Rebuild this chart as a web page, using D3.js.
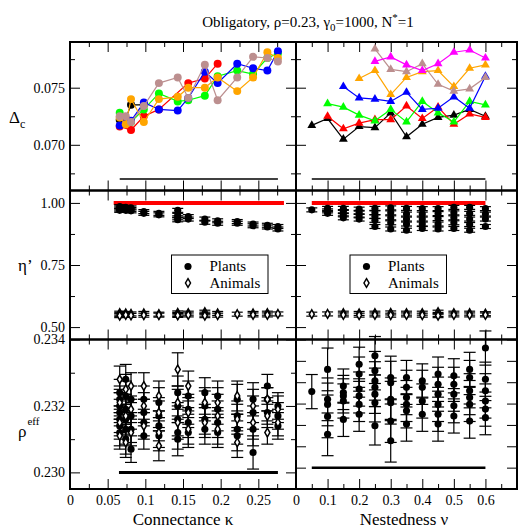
<!DOCTYPE html>
<head>
<meta charset="utf-8">
<title>Obligatory</title>
<script src="https://d3js.org/d3.v7.min.js"></script>
<style>
  body { margin: 0; background: #fff; }
</style>
</head>
<body>
<div id="chart"></div>
<script>
// x values of the columns
var kappa = [0.066, 0.074, 0.081, 0.098, 0.118, 0.143, 0.157, 0.179, 0.196, 0.222, 0.243, 0.262, 0.276];
var nu = [0.05, 0.1, 0.15, 0.2, 0.25, 0.3, 0.35, 0.4, 0.45, 0.5, 0.55, 0.6];

// top left: Delta_c vs connectance (circles)
var dkBlack  = [0.0722, 0.0723, 0.0735, 0.0735, null, null, null, null, null, null, null, null, null];
var dkRed    = [0.0716, null, 0.0713, 0.0725, 0.0731, null, 0.0754, 0.0758, 0.0771, null, null, null, null];
var dkGreen  = [0.0728, 0.0722, 0.0720, 0.0731, 0.0745, 0.0738, 0.0739, 0.0743, 0.0760, 0.0765, 0.0762, 0.0776, 0.0780];
var dkBlue   = [0.0717, 0.0722, 0.0721, 0.0737, 0.0731, 0.0730, 0.0741, 0.0764, 0.0754, 0.0771, 0.0767, 0.0765, 0.0782];
var dkOrange = [0.0724, 0.0718, 0.0740, 0.0720, 0.0740, 0.0742, 0.0750, 0.0750, 0.0759, 0.0747, 0.0759, 0.0781, 0.0776];
var dkBrown  = [0.0725, 0.0725, 0.0720, 0.0734, 0.0754, 0.0759, 0.0741, 0.0770, 0.0739, 0.0759, 0.0777, 0.0776, 0.0773];

// top right: Delta_c vs nestedness (triangles)
var dnBlack   = [0.0717, 0.0723, 0.0705, 0.0716, 0.0715, 0.0728, 0.0707, 0.0718, 0.0724, 0.0726, 0.0731, 0.0725];
var dnRed     = [null, 0.0725, 0.0714, 0.0719, 0.0722, 0.0722, 0.0734, 0.0723, 0.0733, 0.0718, 0.0727, 0.0724];
var dnGreen   = [null, 0.0736, 0.0733, 0.0726, 0.0721, 0.0731, 0.0720, 0.0738, 0.0728, 0.0720, 0.0738, 0.0735];
var dnBlue    = [null, null, 0.0751, 0.0741, 0.0740, 0.0738, 0.0746, 0.0731, 0.0732, 0.0742, 0.0732, 0.0760];
var dnOrange  = [null, null, null, 0.0758, 0.0765, 0.0744, 0.0759, 0.0764, 0.0765, 0.0751, 0.0767, 0.0770];
var dnBrown   = [null, null, null, null, 0.0784, 0.0766, 0.0764, 0.0771, 0.0753, 0.0747, 0.0749, 0.0759];
var dnMagenta = [null, null, null, null, 0.0773, 0.0777, 0.0770, 0.0765, 0.0771, 0.0781, 0.0783, 0.0776];

// middle: eta' per column
var etaPlantsK = [[0.985, 0.980, 0.975, 0.970], [0.982, 0.976, 0.970], [0.980, 0.974, 0.968], [0.965, 0.958],
  [0.958, 0.952], [0.970, 0.950, 0.940, 0.932], [0.945, 0.935], [0.935, 0.922], [0.928, 0.918],
  [0.925, 0.918], [0.915, 0.908], [0.910, 0.903], [0.905, 0.895]];
var etaAnimalsK = [[0.556, 0.550, 0.546], [0.555, 0.549], [0.553, 0.547], [0.555, 0.548], [0.552, 0.548],
  [0.557, 0.551, 0.547], [0.556, 0.549], [0.560, 0.552, 0.546], [0.555, 0.548], [0.552],
  [0.555, 0.549], [0.556, 0.549], [0.553]];
var etaPlantsN = [[0.972], [0.978, 0.968, 0.958], [0.978, 0.965, 0.952, 0.940], [0.975, 0.962, 0.948, 0.935],
  [0.978, 0.960, 0.945, 0.930, 0.905], [0.980, 0.960, 0.940, 0.920, 0.895], [0.978, 0.955, 0.935, 0.915, 0.890],
  [0.977, 0.955, 0.935, 0.915, 0.897], [0.977, 0.957, 0.937, 0.915, 0.895], [0.982, 0.960, 0.940, 0.920, 0.897],
  [0.982, 0.958, 0.935, 0.913, 0.890], [0.977, 0.955, 0.935, 0.905]];
var etaAnimalsN = [[0.552], [0.553], [0.556, 0.549], [0.555, 0.548], [0.556, 0.549], [0.557, 0.548],
  [0.556, 0.549], [0.556, 0.548], [0.560, 0.551, 0.546], [0.556, 0.549], [0.556, 0.549], [0.554, 0.549]];
var etaErr = 0.008;

// bottom: rho_eff per column
var rhoPlantsK = [[0.2324, 0.2322, 0.2320, 0.2318, 0.2316, 0.2314, 0.2312], [0.2328, 0.2323, 0.2319, 0.2316, 0.2313, 0.2310],
  [0.2322, 0.2317, 0.2313, 0.2307], [0.2322, 0.2318, 0.2315, 0.2311], [0.2321, 0.2317, 0.2314, 0.2311],
  [0.2324, 0.2320, 0.2316, 0.2312, 0.2310], [0.2323, 0.2319, 0.2315, 0.2312], [0.2324, 0.2320, 0.2316, 0.2313],
  [0.2323, 0.2319, 0.2315, 0.2312], [0.2322, 0.2317, 0.2313, 0.2311], [0.2322, 0.2318, 0.2313, 0.2306],
  [0.2326, 0.2322, 0.2318], [0.2320, 0.2317, 0.2314]];
var rhoAnimalsK = [[0.2328, 0.2321, 0.2315, 0.2311], [0.2325, 0.2317, 0.2309], [0.2326, 0.2319, 0.2312],
  [0.2326, 0.2320, 0.2314], [0.2323, 0.2318, 0.2312, 0.2308], [0.2331, 0.2321, 0.2315], [0.2326, 0.2318, 0.2313],
  [0.2321, 0.2315], [0.2321, 0.2317, 0.2313], [0.2323, 0.2316, 0.2309], [0.2320, 0.2315],
  [0.2322, 0.2317, 0.2312], [0.2319, 0.2315]];
var rhoErrK = [0.0004, 0.00045, 0.0004, 0.0004, 0.00045, 0.0005, 0.00045, 0.00045, 0.00045, 0.00045, 0.0005, 0.00035, 0.0004];
var rhoPlantsN = [[0.23178], [0.2323, 0.2316, 0.23148, 0.2312, 0.23078], [0.23191, 0.23176, 0.23168, 0.23156, 0.23113],
  [0.23242, 0.23219, 0.23184, 0.23168, 0.23148, 0.23125], [0.23262, 0.23227, 0.23203, 0.23188, 0.23172, 0.23152, 0.23098],
  [0.23211, 0.23199, 0.2316, 0.23152, 0.23109, 0.23063], [0.23211, 0.23188, 0.23164, 0.23148, 0.23133, 0.23102],
  [0.23203, 0.23188, 0.23156, 0.23125], [0.23219, 0.23195, 0.23172, 0.23148, 0.23125, 0.23102],
  [0.23215, 0.23195, 0.23172, 0.23145, 0.23121], [0.2323, 0.23211, 0.2318, 0.23164, 0.23148, 0.23109],
  [0.2328, 0.23207, 0.2318, 0.23156, 0.23137, 0.23117]];
var rhoErrN = [0.0004, 0.0005, 0.0004, 0.0004, 0.00045, 0.0005, 0.0004, 0.0004, 0.0004, 0.0004, 0.0004, 0.0004];

var FONT = '"Liberation Serif", "DejaVu Serif", serif';
var width = 523, height = 532;
var svg = d3.select('#chart').append('svg').attr('width', width).attr('height', height)
  .style('font-family', FONT);

var rows = [[42, 190.5], [190.5, 339.5], [339.5, 489]];
var xK = d3.scaleLinear().domain([0, 0.3]).range([70, 296]);
var xN = d3.scaleLinear().domain([0, 0.7]).range([296, 517]);
var yTop = d3.scaleLinear().domain([0.066, 0.079]).range([rows[0][1], rows[0][0]]);
var yMid = d3.scaleLinear().domain([0.45, 1.05]).range([rows[1][1], rows[1][0]]);
var yBotL = d3.scaleLinear().domain([0.2295, 0.234]).range([rows[2][1], rows[2][0]]);
var yBotR = d3.scaleLinear().domain([0.2295, 0.233]).range([rows[2][1], rows[2][0]]);

var ticksK = { major: [0, 0.05, 0.1, 0.15, 0.2, 0.25, 0.3], minor: [0.025, 0.075, 0.125, 0.175, 0.225, 0.275] };
var ticksN = { major: [0, 0.1, 0.2, 0.3, 0.4, 0.5, 0.6, 0.7], minor: [0.05, 0.15, 0.25, 0.35, 0.45, 0.55, 0.65] };

function clean(g) { g.select('.domain').remove(); g.selectAll('line').attr('stroke', '#000'); }

// ticks on all four sides, pointing inwards
function frame(x, y, xt, yt, showX, showY) {
  var g = svg.append('g');
  var x0 = x.range()[0], x1 = x.range()[1], yb = y.range()[0], ytp = y.range()[1];
  [[d3.axisBottom, yb], [d3.axisTop, ytp]].forEach(function (a, i) {
    g.append('g').attr('transform', 'translate(0,' + a[1] + ')')
      .call(a[0](x).tickValues(xt.major).tickSize(-10).tickPadding(6)
        .tickFormat(i === 0 && showX ? function (d) { return d === 0.7 || d === 0.3 && showX === 'k' ? '' : d3.format('')(+d.toFixed(2)); } : ''))
      .call(clean);
    g.append('g').attr('transform', 'translate(0,' + a[1] + ')')
      .call(a[0](x).tickValues(xt.minor).tickSize(-5).tickFormat('')).call(clean);
  });
  [[d3.axisLeft, x0], [d3.axisRight, x1]].forEach(function (a, i) {
    g.append('g').attr('transform', 'translate(' + a[1] + ',0)')
      .call(a[0](y).tickValues(yt.major).tickSize(-10).tickPadding(5)
        .tickFormat(i === 0 && showY ? d3.format(yt.fmt) : ''))
      .call(clean);
    if (yt.minor) {
      g.append('g').attr('transform', 'translate(' + a[1] + ',0)')
        .call(a[0](y).tickValues(yt.minor).tickSize(-5).tickFormat('')).call(clean);
    }
  });
  g.selectAll('g').attr('font-family', null).attr('font-size', null);
  g.selectAll('text').style('font-size', '14px').style('font-family', FONT).attr('fill', '#000');
  g.append('rect').attr('x', x0).attr('y', ytp).attr('width', x1 - x0).attr('height', yb - ytp)
    .attr('fill', 'none').attr('stroke', '#000').attr('stroke-width', 2);
}

var ytTop = { major: [0.070, 0.075], minor: [0.0675, 0.0725, 0.0775], fmt: '.3f' };
var ytMid = { major: [0.5, 0.75, 1.0], minor: [0.625, 0.875], fmt: '.2f' };
var ytBotL = { major: [0.230, 0.232, 0.234], minor: [0.231, 0.233], fmt: '.3f' };
var ytBotR = { major: [0.2295, 0.230, 0.2305, 0.231, 0.2315, 0.232, 0.2325, 0.233], fmt: '.3f' };

frame(xK, yTop, ticksK, ytTop, false, true);
frame(xN, yTop, ticksN, ytTop, false, false);
frame(xK, yMid, ticksK, ytMid, false, true);
frame(xN, yMid, ticksN, ytMid, false, false);
frame(xK, yBotL, ticksK, ytBotL, 'k', true);
frame(xN, yBotR, ticksN, ytBotR, 'n', false);

// reference lines
function hline(x, y, a, b, v, color, w) {
  svg.append('line').attr('x1', x(a)).attr('x2', x(b)).attr('y1', y(v)).attr('y2', y(v))
    .attr('stroke', color).attr('stroke-width', w);
}
hline(xK, yTop, 0.066, 0.276, 0.067, '#000', 1.5);
hline(xN, yTop, 0.05, 0.6, 0.067, '#000', 1.5);
hline(xK, yMid, 0.058, 0.284, 1.0, '#ff0000', 4);
hline(xN, yMid, 0.05, 0.6, 1.0, '#ff0000', 4);
hline(xK, yBotL, 0.065, 0.276, 0.230, '#000', 3);
hline(xN, yBotR, 0.05, 0.6, 0.230, '#000', 2.5);

// top panels: connected series
var seriesK = [
  { c: '#000000', v: dkBlack }, { c: '#ff0000', v: dkRed }, { c: '#00ff00', v: dkGreen },
  { c: '#0000ff', v: dkBlue }, { c: '#ffa500', v: dkOrange }, { c: '#bc8f8f', v: dkBrown }
];
var seriesN = [
  { c: '#000000', v: dnBlack }, { c: '#ff0000', v: dnRed }, { c: '#00ff00', v: dnGreen },
  { c: '#0000ff', v: dnBlue }, { c: '#ffa500', v: dnOrange }, { c: '#bc8f8f', v: dnBrown },
  { c: '#ff00ff', v: dnMagenta }
];

function drawSeries(list, xs, x, y, symbol, size) {
  list.forEach(function (s) {
    var pts = xs.map(function (k, i) { return [k, s.v[i]]; }).filter(function (p) { return p[1] != null; });
    var line = d3.line().x(function (d) { return x(d[0]); }).y(function (d) { return y(d[1]); });
    svg.append('path').datum(pts).attr('fill', 'none').attr('stroke', s.c).attr('stroke-width', 1.2).attr('d', line);
    svg.append('g').selectAll('path').data(pts).enter().append('path')
      .attr('transform', function (d) { return 'translate(' + x(d[0]) + ',' + y(d[1]) + ')'; })
      .attr('d', d3.symbol().type(symbol).size(size)).attr('fill', s.c);
  });
}
drawSeries(seriesK, kappa, xK, yTop, d3.symbolCircle, 50);
drawSeries(seriesN, nu, xN, yTop, d3.symbolTriangle, 34);

// points with error bars
function flat(cols, xs, err) {
  var out = [];
  cols.forEach(function (vals, i) {
    vals.forEach(function (v) { out.push({ x: xs[i], v: v, e: Array.isArray(err) ? err[i] : err }); });
  });
  return out;
}
function drawErr(pts, x, y, kind, cap) {
  var g = svg.append('g');
  pts.forEach(function (d) {
    var cx = x(d.x), lo = y(d.v - d.e), hi = y(d.v + d.e);
    g.append('line').attr('x1', cx).attr('x2', cx).attr('y1', lo).attr('y2', hi).attr('stroke', '#000').attr('stroke-width', 1.2);
    [lo, hi].forEach(function (yy) {
      g.append('line').attr('x1', cx - cap).attr('x2', cx + cap).attr('y1', yy).attr('y2', yy).attr('stroke', '#000').attr('stroke-width', 1.2);
    });
  });
  g.selectAll('path.m').data(pts).enter().append('path')
    .attr('transform', function (d) { return 'translate(' + x(d.x) + ',' + y(d.v) + ')'; })
    .attr('d', kind === 'plant' ? d3.symbol().type(d3.symbolCircle).size(40) : d3.symbol().type(d3.symbolDiamond).size(22))
    .attr('fill', kind === 'plant' ? '#000' : '#fff').attr('stroke', '#000').attr('stroke-width', kind === 'plant' ? 0 : 1.5);
}
drawErr(flat(etaPlantsK, kappa, etaErr), xK, yMid, 'plant', 5.5);
drawErr(flat(etaAnimalsK, kappa, etaErr), xK, yMid, 'animal', 5.5);
drawErr(flat(etaPlantsN, nu, etaErr), xN, yMid, 'plant', 5.5);
drawErr(flat(etaAnimalsN, nu, etaErr), xN, yMid, 'animal', 5.5);
drawErr(flat(rhoPlantsK, kappa, rhoErrK), xK, yBotL, 'plant', 6);
drawErr(flat(rhoAnimalsK, kappa, rhoErrK), xK, yBotL, 'animal', 6);
drawErr(flat(rhoPlantsN, nu, rhoErrN), xN, yBotR, 'plant', 6);

// legends
[171.5, 350].forEach(function (lx) {
  var g = svg.append('g').attr('transform', 'translate(' + lx + ',255)');
  g.append('rect').attr('width', 96.5).attr('height', 38.5).attr('fill', '#fff').attr('stroke', '#000').attr('stroke-width', 1);
  g.append('path').attr('transform', 'translate(16.5,11.5)').attr('d', d3.symbol().type(d3.symbolCircle).size(40)).attr('fill', '#000');
  g.append('path').attr('transform', 'translate(16.5,28)').attr('d', d3.symbol().type(d3.symbolDiamond).size(22))
    .attr('fill', '#fff').attr('stroke', '#000').attr('stroke-width', 1.5);
  g.append('text').attr('x', 38).attr('y', 16).style('font-size', '15px').text('Plants');
  g.append('text').attr('x', 38).attr('y', 33).style('font-size', '15px').text('Animals');
});

// title and axis titles
var title = svg.append('text').attr('x', 308).attr('y', 27).attr('text-anchor', 'middle').style('font-size', '15px');
title.append('tspan').text('Obligatory, \u03c1=0.23, \u03b3');
title.append('tspan').attr('dy', 4).style('font-size', '11px').text('0');
title.append('tspan').attr('dy', -4).text('=1000, N');
title.append('tspan').attr('dy', -6).style('font-size', '11px').text('*');
title.append('tspan').attr('dy', 6).text('=1');

svg.append('text').attr('x', 183).attr('y', 525).attr('text-anchor', 'middle').style('font-size', '17px').text('Connectance \u03ba');
svg.append('text').attr('x', 404).attr('y', 525).attr('text-anchor', 'middle').style('font-size', '17px').text('Nestedness \u03bd');

var dl = svg.append('text').attr('x', 9).attr('y', 123).style('font-size', '17px');
dl.append('tspan').text('\u0394');
dl.append('tspan').attr('dy', 5).style('font-size', '12px').text('c');

svg.append('text').attr('x', 18).attr('y', 271).style('font-size', '17px').text('\u03b7\u2019');

var rl = svg.append('text').attr('x', 18).attr('y', 437).style('font-size', '17px');
rl.append('tspan').text('\u03c1');
rl.append('tspan').attr('dx', 1).attr('dy', -12).style('font-size', '11px').text('eff');

svg.selectAll('text').style('font-family', FONT);
</script>
</body>
